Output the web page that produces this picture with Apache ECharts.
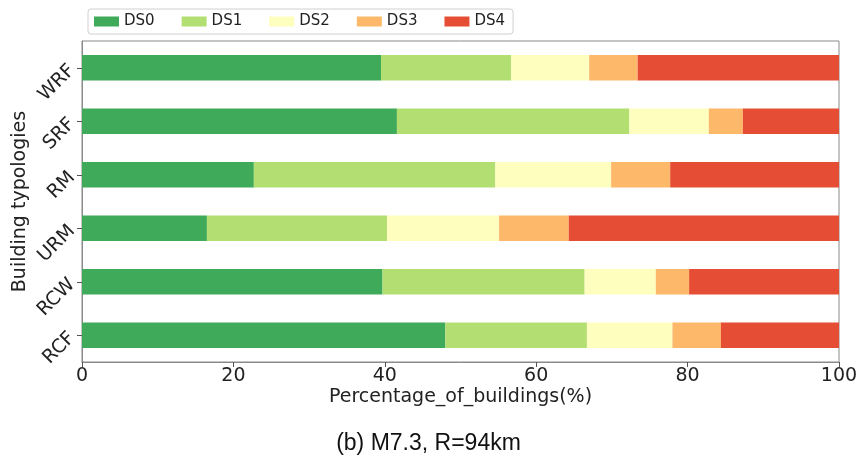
<!DOCTYPE html>
<html>
<head>
<meta charset="utf-8">
<script src="https://cdn.jsdelivr.net/npm/echarts@6/dist/echarts.min.js"></script>
<style>html,body{margin:0;padding:0;background:#fff;}#c{width:857px;height:463px;}</style>
</head>
<body>
<div id="c"></div>
<script>
const categories = ['RCF', 'RCW', 'URM', 'RM', 'SRF', 'WRF'];
const seriesNames = ['DS0', 'DS1', 'DS2', 'DS3', 'DS4'];
const DS0 = [48.0, 39.7, 16.5, 22.7, 41.6, 39.5];
const DS1 = [18.7, 26.7, 23.8, 31.9, 30.7, 17.2];
const DS2 = [11.3, 9.4, 14.8, 15.3, 10.5, 10.3];
const DS3 = [6.4, 4.4, 9.2, 7.8, 4.5, 6.4];
const DS4 = [15.6, 19.8, 35.7, 22.3, 12.7, 26.6];
const xTicks = [0, 20, 40, 60, 80, 100];
const titleText = '(b) M7.3, R=94km';

const colors = ['#3faa59', '#b3df72', '#feffbe', '#fdb869', '#e54e35'];
const values = [DS0, DS1, DS2, DS3, DS4];
const font = 'DejaVu Sans';

const chart = echarts.init(document.getElementById('c'), null, {renderer: 'canvas'});
chart.setOption({
  animation: false,
  backgroundColor: '#fff',
  color: colors,
  title: {
    text: titleText,
    left: 'center',
    top: 427,
    textStyle: {fontFamily: 'Liberation Sans', fontSize: 23, fontWeight: 'normal', color: '#111'}
  },
  legend: {
    left: 88, top: 9,
    itemWidth: 25, itemHeight: 10, itemGap: 27,
    padding: [5, 8, 5, 6],
    borderColor: '#d0d0d0', borderWidth: 1, borderRadius: 3,
    icon: 'rect',
    textStyle: {fontFamily: font, fontSize: 15, color: '#222'},
    data: seriesNames
  },
  grid: {left: 82, right: 18, top: 41, bottom: 101, show: true, borderColor: '#8a8a8a', borderWidth: 1,
    outerBoundsMode: 'none', containLabel: false},
  xAxis: {
    type: 'value', min: 0, max: 100, interval: 20,
    name: 'Percentage_of_buildings(%)', nameLocation: 'middle', nameGap: 26,
    nameMoveOverlap: false,
    nameTextStyle: {fontFamily: font, fontSize: 19, color: '#222'},
    axisLine: {show: true, lineStyle: {color: '#8a8a8a'}},
    axisTick: {show: true, length: 5, lineStyle: {color: '#555'}},
    axisLabel: {fontFamily: font, fontSize: 19, color: '#222', margin: 5,
      formatter: v => xTicks.includes(v) ? String(v) : ''},
    splitLine: {show: false}
  },
  yAxis: {
    type: 'category', data: categories,
    name: 'Building typologies', nameLocation: 'middle', nameGap: 52,
    nameMoveOverlap: false,
    nameTextStyle: {fontFamily: font, fontSize: 19, color: '#222'},
    axisLine: {show: true, lineStyle: {color: '#8a8a8a'}},
    axisTick: {show: true, alignWithLabel: true, length: 5, lineStyle: {color: '#555'}},
    axisLabel: {fontFamily: font, fontSize: 19, color: '#222', rotate: 45, margin: 10},
    splitLine: {show: false}
  },
  series: seriesNames.map((n, i) => ({
    name: n, type: 'bar', stack: 'total', data: values[i],
    barWidth: '48%',
    itemStyle: {color: colors[i]}
  }))
});
</script>
</body>
</html>
